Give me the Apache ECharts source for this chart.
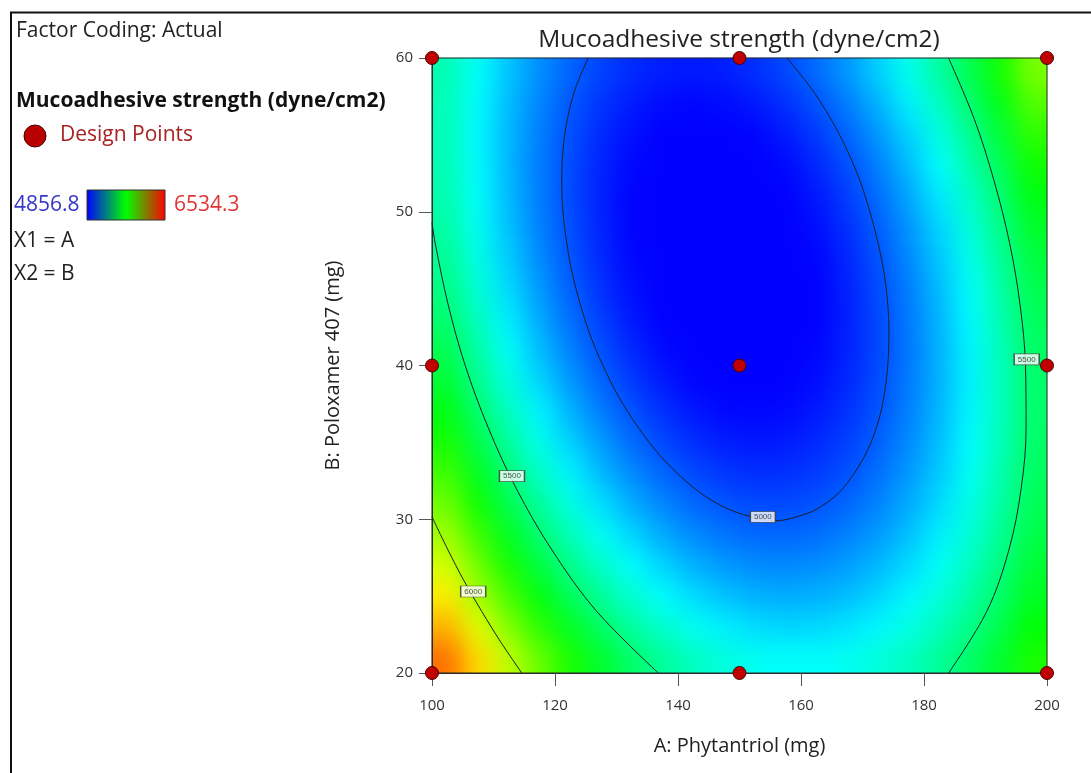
<!DOCTYPE html>
<html><head><meta charset="utf-8">
<script src="https://cdn.jsdelivr.net/npm/echarts@6.0.0/dist/echarts.min.js"></script>
<style>
html,body{margin:0;padding:0;background:#fff;overflow:hidden;}
#base,#main{position:absolute;left:0;top:0;width:1091px;height:773px;}
#blurWrap{position:absolute;left:432px;top:58px;width:615px;height:615px;overflow:hidden;}
#blur{width:615px;height:615px;filter:url(#edgeBlur);}
</style></head><body>
<svg width="0" height="0" style="position:absolute;left:0;top:0">
  <filter id="edgeBlur" x="0" y="0" width="100%" height="100%" color-interpolation-filters="sRGB">
    <feGaussianBlur stdDeviation="12"/>
    <feComponentTransfer><feFuncA type="linear" slope="40" intercept="0"/></feComponentTransfer>
  </filter>
</svg>
<div id="base"></div>
<div id="blurWrap"><div id="blur"></div></div>
<div id="main"></div>
<script>
// ---- data ----
const aCenters = [102.5,107.5,112.5,117.5,122.5,127.5,132.5,137.5,142.5,147.5,152.5,157.5,162.5,167.5,172.5,177.5,182.5,187.5,192.5,197.5];
const bCenters = [21,23,25,27,29,31,33,35,37,39,41,43,45,47,49,51,53,55,57,59];
// estimated response (dyne/cm2) at each cell, rows = bCenters, columns = aCenters
const strengthGrid = [
 [6352,6173,6011,5865,5735,5622,5525,5444,5379,5331,5298,5282,5283,5299,5332,5381,5446,5527,5625,5739],
 [6244,6069,5910,5767,5640,5530,5436,5358,5296,5251,5221,5209,5212,5231,5267,5319,5387,5472,5573,5690],
 [6143,5971,5815,5675,5551,5444,5353,5278,5220,5177,5151,5141,5148,5170,5209,5264,5335,5423,5527,5647],
 [6048,5879,5726,5589,5469,5365,5277,5205,5149,5110,5087,5080,5090,5115,5157,5215,5290,5380,5487,5610],
 [5960,5794,5644,5510,5393,5292,5207,5138,5086,5049,5029,5026,5038,5067,5112,5173,5250,5344,5454,5580],
 [5878,5715,5568,5438,5323,5225,5143,5078,5028,4995,4978,4977,4993,5025,5073,5137,5217,5314,5427,5556],
 [5803,5643,5499,5371,5260,5165,5086,5024,4977,4947,4933,4936,4954,4989,5040,5107,5191,5291,5407,5539],
 [5734,5577,5436,5311,5203,5111,5035,4976,4933,4905,4895,4900,4922,4960,5014,5084,5171,5274,5393,5528],
 [5671,5517,5379,5258,5153,5064,4991,4935,4894,4870,4863,4871,4896,4937,4994,5067,5157,5263,5385,5524],
 [5615,5464,5329,5211,5109,5023,4953,4900,4863,4842,4837,4848,4876,4920,4980,5057,5150,5259,5384,5525],
 [5565,5417,5286,5170,5071,4988,4922,4871,4837,4819,4818,4832,4863,4910,4973,5053,5149,5261,5389,5534],
 [5521,5377,5248,5136,5040,4960,4897,4849,4818,4803,4805,4822,4856,4907,4973,5055,5154,5270,5401,5548],
 [5484,5343,5217,5108,5015,4938,4878,4834,4806,4794,4798,4819,4856,4909,4979,5064,5166,5284,5419,5569],
 [5454,5315,5193,5087,4997,4923,4866,4824,4799,4791,4798,4822,4862,4918,4991,5080,5185,5306,5443,5597],
 [5429,5294,5175,5071,4985,4914,4860,4822,4800,4794,4805,4831,4875,4934,5009,5101,5209,5334,5474,5631],
 [5411,5279,5163,5063,4979,4911,4860,4825,4806,4804,4817,4847,4893,4956,5034,5129,5240,5368,5511,5671],
 [5400,5271,5157,5060,4980,4915,4867,4835,4819,4820,4836,4869,4919,4984,5066,5164,5278,5408,5555,5718],
 [5395,5269,5158,5065,4987,4925,4880,4851,4839,4842,4862,4898,4950,5019,5103,5204,5322,5455,5605,5771],
 [5396,5273,5166,5075,5000,4942,4900,4874,4864,4871,4894,4933,4988,5060,5148,5252,5372,5509,5661,5830],
 [5404,5284,5180,5092,5020,4965,4926,4903,4897,4906,4932,4974,5033,5107,5198,5305,5429,5568,5724,5896]
];
const colorMin = 4856.8;
const colorMax = 6534.3;

const designA = [100,100,100,150,150,150,200,200,200];
const designB = [20,40,60,20,40,60,20,40,60];

const c5000A = [125.4,123.3,122.0,121.3,121.1,121.3,121.9,122.8,124.1,125.7,127.8,130.3,133.5,137.4,142.7,146.5,149.9,155.7,161.1,163.9,166.8,170.2,172.3,173.5,174.1,174.3,174.1,173.5,172.5,171.2,169.6,167.5,164.9,161.7,157.7];
const c5000B = [60,58,56,54,52,50,48,46,44,42,40,38,36,34,32,31,30.4,29.9,30.4,31,32,34,36,38,40,42,44,46,48,50,52,54,56,58,60];
const c5500LeftA = [100,100.5,102.6,105.4,109.1,113.7,119.5,126.8,136.8];
const c5500LeftB = [49.3,48,44,40,36,32,28,24,20];
const c5500RightA = [184.0,188.2,191.4,193.9,195.6,196.5,196.6,195.8,193.8,190.2,184.0];
const c5500RightB = [60,56,52,48,44,40,36,32,28,24,20];
const c6000A = [100,102.6,105.2,108.1,111.2,114.6];
const c6000B = [30.16,28,26,24,22,20];

const contourLabelA = [113.0,106.7,153.8,196.7];
const contourLabelB = [32.8,25.3,30.15,40.4];
const contourLabelText = ['5500','6000','5000','5500'];

// ---- build ----
const FONT = '"Open Sans", "Noto Sans", sans-serif';
const rampColors = ['#0000ff','#00ffff','#00ff00','#ffff00','#ff0000'];
const heatData = [];
strengthGrid.forEach((row, j) => row.forEach((v, i) => heatData.push([i, j, v])));
const zip = (xs, ys) => xs.map((x, i) => [x, ys[i]]);

function heatOption(grid) {
  return {
    animation: false,
    grid: Object.assign({ outerBoundsMode: 'none', containLabel: false }, grid),
    xAxis: { type: 'category', data: aCenters, show: false },
    yAxis: { type: 'category', data: bCenters, show: false },
    visualMap: { type: 'continuous', show: false, min: colorMin, max: colorMax, inRange: { color: rampColors } },
    series: [{ type: 'heatmap', data: heatData, progressive: 0, silent: true, itemStyle: { borderWidth: 0 } }]
  };
}
echarts.init(document.getElementById('base'), null, { renderer: 'canvas' })
  .setOption(heatOption({ left: 432, top: 58, width: 615, height: 615 }));
echarts.init(document.getElementById('blur'), null, { renderer: 'canvas' })
  .setOption(heatOption({ left: 0, top: 0, width: 615, height: 615 }));

const contourLine = (name, xs, ys) => ({
  type: 'line', name: name, data: zip(xs, ys), smooth: 0.35, showSymbol: false, symbol: 'none',
  silent: true, z: 3, lineStyle: { color: '#1e1e28', width: 1 }
});

function txt(text, x, y, font, fill, align) {
  return { type: 'text', silent: true, z: 20, style: { text: text, x: x, y: y, font: font, fill: fill,
    textAlign: align || 'left', textVerticalAlign: 'middle', align: align || 'left', verticalAlign: 'middle' } };
}

const main = echarts.init(document.getElementById('main'), null, { renderer: 'canvas' });
main.setOption({
  animation: false,
  grid: { left: 432, top: 58, width: 615, height: 615, show: true, borderColor: '#2a2a2a', borderWidth: 1,
          backgroundColor: 'transparent', outerBoundsMode: 'none', containLabel: false },
  xAxis: {
    type: 'value', min: 100, max: 200, interval: 20,
    name: 'A: Phytantriol (mg)', nameLocation: 'middle', nameGap: 63,
    nameTextStyle: { fontSize: 20, color: '#222', fontFamily: FONT },
    axisLine: { show: true, lineStyle: { color: '#2a2a2a', width: 1 } },
    axisTick: { show: true, length: 13, lineStyle: { color: '#555' } },
    axisLabel: { fontSize: 15, color: '#333', margin: 25, fontFamily: FONT },
    splitLine: { show: false }
  },
  yAxis: {
    type: 'value', min: 20, max: 60, interval: 10,
    name: 'B: Poloxamer 407 (mg)', nameLocation: 'middle', nameGap: 89,
    nameTextStyle: { fontSize: 20, color: '#222', fontFamily: FONT },
    axisLine: { show: true, lineStyle: { color: '#2a2a2a', width: 1 } },
    axisTick: { show: true, length: 13, lineStyle: { color: '#555' } },
    axisLabel: { fontSize: 15, color: '#333', margin: 19, fontFamily: FONT },
    splitLine: { show: false }
  },
  series: [
    contourLine('5000', c5000A, c5000B),
    contourLine('5500 left', c5500LeftA, c5500LeftB),
    contourLine('5500 right', c5500RightA, c5500RightB),
    contourLine('6000', c6000A, c6000B),
    {
      type: 'scatter', name: 'Contour labels', silent: true, z: 6,
      data: zip(contourLabelA, contourLabelB),
      symbol: 'rect', symbolSize: [25, 11],
      itemStyle: { color: '#ffffff', borderColor: '#333', borderWidth: 1 },
      label: { show: true, position: 'inside', fontSize: 8, color: '#222', fontFamily: '"Liberation Sans", Arial, sans-serif',
               formatter: p => contourLabelText[p.dataIndex] }
    },
    {
      type: 'scatter', name: 'Design Points', z: 10, clip: false,
      data: zip(designA, designB), symbol: 'circle', symbolSize: 13,
      itemStyle: { color: '#c00000', borderColor: '#4a0000', borderWidth: 1, opacity: 1 }
    }
  ],
  graphic: [
    { type: 'line', silent: true, shape: { x1: 10, y1: 12.5, x2: 1091, y2: 12.5 }, style: { stroke: '#111', lineWidth: 2 } },
    { type: 'line', silent: true, shape: { x1: 11, y1: 12, x2: 11, y2: 773 }, style: { stroke: '#111', lineWidth: 2 } },
    txt('Factor Coding: Actual', 16, 31, '21px ' + FONT, '#222'),
    txt('Mucoadhesive strength (dyne/cm2)', 16, 101, 'bold 21px ' + FONT, '#111'),
    { type: 'circle', silent: true, z: 20, shape: { cx: 35, cy: 136, r: 11 }, style: { fill: '#b80000', stroke: '#4a0000', lineWidth: 1 } },
    txt('Design Points', 60, 135, '21px ' + FONT, '#a82222'),
    txt('4856.8', 14, 205, '21px ' + FONT, '#3535c8'),
    { type: 'rect', silent: true, z: 20, shape: { x: 87, y: 190, width: 78, height: 30 },
      style: { fill: new echarts.graphic.LinearGradient(0, 0, 1, 0, [
        { offset: 0, color: '#0000ff' }, { offset: 0.5, color: '#00ff00' }, { offset: 1, color: '#ff0000' }]),
        stroke: '#333', lineWidth: 1 } },
    txt('6534.3', 174, 205, '21px ' + FONT, '#e03535'),
    txt('X1 = A', 14, 241, '21px ' + FONT, '#222'),
    txt('X2 = B', 14, 274, '21px ' + FONT, '#222'),
    txt('Mucoadhesive strength (dyne/cm2)', 739, 40, '24.5px ' + FONT, '#222', 'center')
  ]
});
</script>
</body></html>
